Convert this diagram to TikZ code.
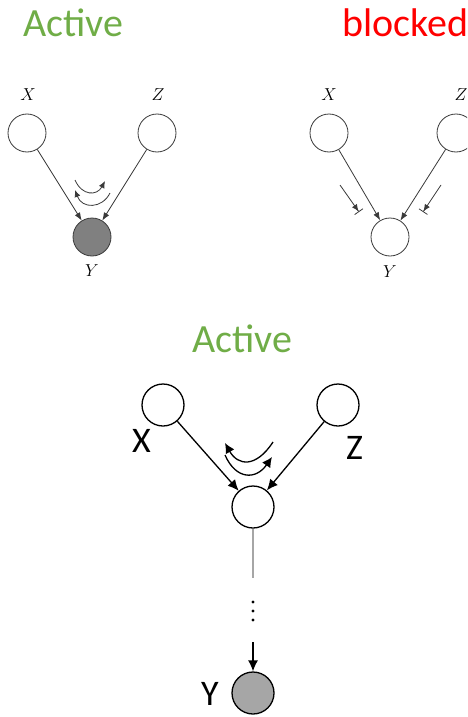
\documentclass[tikz,border=0pt]{standalone}
\usepackage{fontspec}
\setsansfont{Carlito}
\usetikzlibrary{arrows.meta}
\definecolor{actgreen}{HTML}{70AD47}
\definecolor{blkred}{HTML}{FF0000}
\definecolor{edgegray}{HTML}{3A3A3A}
\tikzset{
  title/.style={font=\sffamily\fontsize{40}{40}\selectfont, anchor=base west, inner sep=0pt},
  smallvar/.style={circle, draw=edgegray, line width=0.8pt, minimum size=38pt, inner sep=0pt},
  bigvar/.style={circle, draw=black, line width=1.3pt, minimum size=42pt, inner sep=0pt},
  serifname/.style={font=\fontsize{18}{18}\selectfont, inner sep=0pt},
  sansname/.style={font=\sffamily\fontsize{36}{36}\selectfont, anchor=base west, inner sep=0pt},
  smalledge/.style={draw=edgegray, line width=0.8pt, -{Latex[length=8pt,width=6pt]}},
  bigedge/.style={draw=black, line width=1.3pt, -{Latex[length=11pt,width=10pt]}},
  flowsmall/.style={draw=edgegray, line width=0.8pt, -{Latex[length=7pt,width=6pt]}},
  flowbig/.style={draw=black, line width=1.3pt, -{Latex[length=10pt,width=10pt]}},
  blockmark/.style={draw=edgegray, line width=0.8pt, -{Latex[length=7pt,width=6pt,sep=0pt]Bar[width=10pt]}},
}
\begin{document}
\begin{tikzpicture}[x=1pt, y=-1pt]
\clip (0,0) rectangle (467,717);
\fill[white] (0,0) rectangle (467,717);

% ---- headings ----
\node[title, text=actgreen] (h1) at (23,37) {Active};
\node[title, text=blkred] (h2) at (342,37) {blocked};
\node[title, text=actgreen] (h3) at (192,352) {Active};

% ---- collider with observed child ----
\node[smallvar] (ax) at (27,133) {};
\node[smallvar] (az) at (157,133) {};
\node[smallvar, fill=gray!100] (ay) at (92,237) {};
\node[serifname] (axl) at (28,95) {$X$};
\node[serifname] (azl) at (158,95) {$Z$};
\node[serifname] (ayl) at (92,271) {$Y$};
\path[smalledge] (ax) -- (ay);
\path[smalledge] (az) -- (ay);
\coordinate (af1) at (75,180);
\coordinate (af2) at (105,181);
\coordinate (ab1) at (110,193);
\coordinate (ab2) at (75,190);
\path[flowsmall] (af1) .. controls (82,196) and (97,196) .. (af2);
\path[flowsmall] (ab1) .. controls (102,209) and (82,209) .. (ab2);

% ---- collider with unobserved child ----
\node[smallvar] (bx) at (329,133) {};
\node[smallvar] (bz) at (456,133) {};
\node[smallvar] (by) at (390,237) {};
\node[serifname] (bxl) at (329,95) {$X$};
\node[serifname] (bzl) at (461,95) {$Z$};
\node[serifname] (byl) at (390,272) {$Y$};
\path[smalledge] (bx) -- (by);
\path[smalledge] (bz) -- (by);
\coordinate (bl1) at (340,185);
\coordinate (bl2) at (359,212);
\coordinate (br1) at (441,185);
\coordinate (br2) at (423,212);
\path[blockmark] (bl1) -- (bl2);
\path[blockmark] (br1) -- (br2);

% ---- collider with observed descendant ----
\node[bigvar] (cx) at (163,405) {};
\node[bigvar] (cz) at (338,405) {};
\node[bigvar] (cm) at (253,507) {};
\node[bigvar, fill=gray!70] (cy) at (253,693) {};
\node[sansname] (cxl) at (132,452) {X};
\node[sansname] (czl) at (346,459) {Z};
\node[sansname] (cyl) at (201,705) {Y};
\path[bigedge] (cx) -- (cm);
\path[bigedge] (cz) -- (cm);
\coordinate (cf1) at (273,442);
\coordinate (cf2) at (225,443);
\coordinate (cb1) at (225,455);
\coordinate (cb2) at (272,457);
\path[flowbig] (cf1) .. controls (256,468) and (238,466) .. (cf2);
\path[flowbig] (cb1) .. controls (236,480) and (256,480) .. (cb2);
\coordinate (chainend) at (253,578);
\draw[draw=gray!70, line width=1.5pt] (cm) -- (chainend);
\foreach \yy in {602,611,620} \fill[black] (253,\yy) circle (1.7pt);
\coordinate (chainstart) at (253,642);
\path[bigedge] (chainstart) -- (cy);
\end{tikzpicture}
\end{document}
